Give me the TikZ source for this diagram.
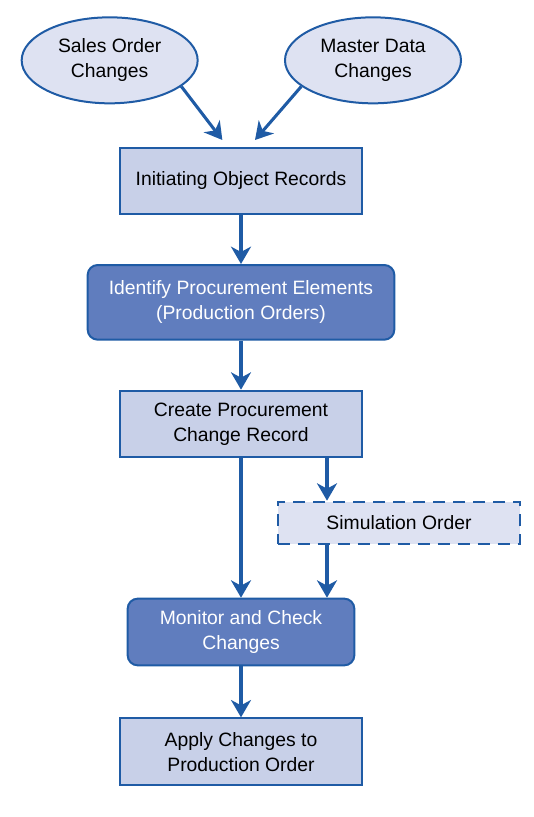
\documentclass[tikz,border=0pt]{standalone}
\usepackage{fontspec}
\setmainfont{Liberation Sans}
\usepackage{tikz}
\usetikzlibrary{shapes.geometric,arrows.meta,positioning}
\definecolor{lineblue}{RGB}{31,91,165}
\definecolor{boxlight}{RGB}{200,208,232}
\definecolor{boxdark}{RGB}{96,125,190}
\definecolor{ovalfill}{RGB}{222,226,242}
\tikzset{
  box/.style={rectangle,draw=lineblue,line width=1.5pt,fill=boxlight,text=black,
              align=center,inner sep=4pt,font=\fontsize{14.5}{18.75}\selectfont,
              minimum width=181pt,minimum height=50pt},
  dbox/.style={box,rounded corners=7.5pt,fill=boxdark,text=white},
  simbox/.style={box,dash pattern=on 9pt off 6pt,fill=ovalfill,
                 minimum width=182pt,minimum height=31.5pt},
  oval/.style={ellipse,draw=lineblue,line width=1.5pt,fill=ovalfill,align=center,
               inner sep=0pt,font=\fontsize{14.5}{18.75}\selectfont,
               minimum width=132pt,minimum height=64.5pt},
  fl/.style={-{Stealth[length=13pt,width=15pt,inset=4pt]},draw=lineblue,line width=2.3pt},
}
\begin{document}
\begin{tikzpicture}[node distance=36.5pt]
  \useasboundingbox (-180.75pt,-477pt) rectangle (219.75pt,135.75pt);
  \node[box] (init) at (0,0) {Initiating Object Records};
  \node[oval,above=31.75pt of init,xshift=-98.5pt] (sales) {Sales Order\\Changes};
  \node[oval,above=31.75pt of init,xshift=99pt] (master) {Master Data\\Changes};
  \node[dbox,below=of init,minimum width=230pt,minimum height=56pt] (ident) {Identify Procurement Elements\\(Production Orders)};
  \node[box,below=36.75pt of ident] (chg) {Create Procurement\\Change Record};
  \node[simbox,below right=31.75pt and -64.5pt of chg] (sim) {Simulation Order};
  \node[dbox,below=104.5pt of chg,minimum width=170pt] (mon) {Monitor and Check\\Changes};
  \node[box,below=38.25pt of mon] (apply) {Apply Changes to\\Production Order};
  \coordinate (simx) at ([xshift=-54pt]sim.north);
  \draw[fl] (sales.-20) -- ([xshift=-14pt,yshift=5pt]init.north);
  \draw[fl] (master.200) -- ([xshift=10.5pt,yshift=5pt]init.north);
  \draw[fl] (init) -- (ident);
  \draw[fl] (ident) -- (chg);
  \draw[fl] (chg) -- (mon);
  \draw[fl] (chg.south -| simx) -- (simx);
  \draw[fl] (sim.south -| simx) -- (mon.north -| simx);
  \draw[fl] (mon) -- (apply);
\end{tikzpicture}
\end{document}
